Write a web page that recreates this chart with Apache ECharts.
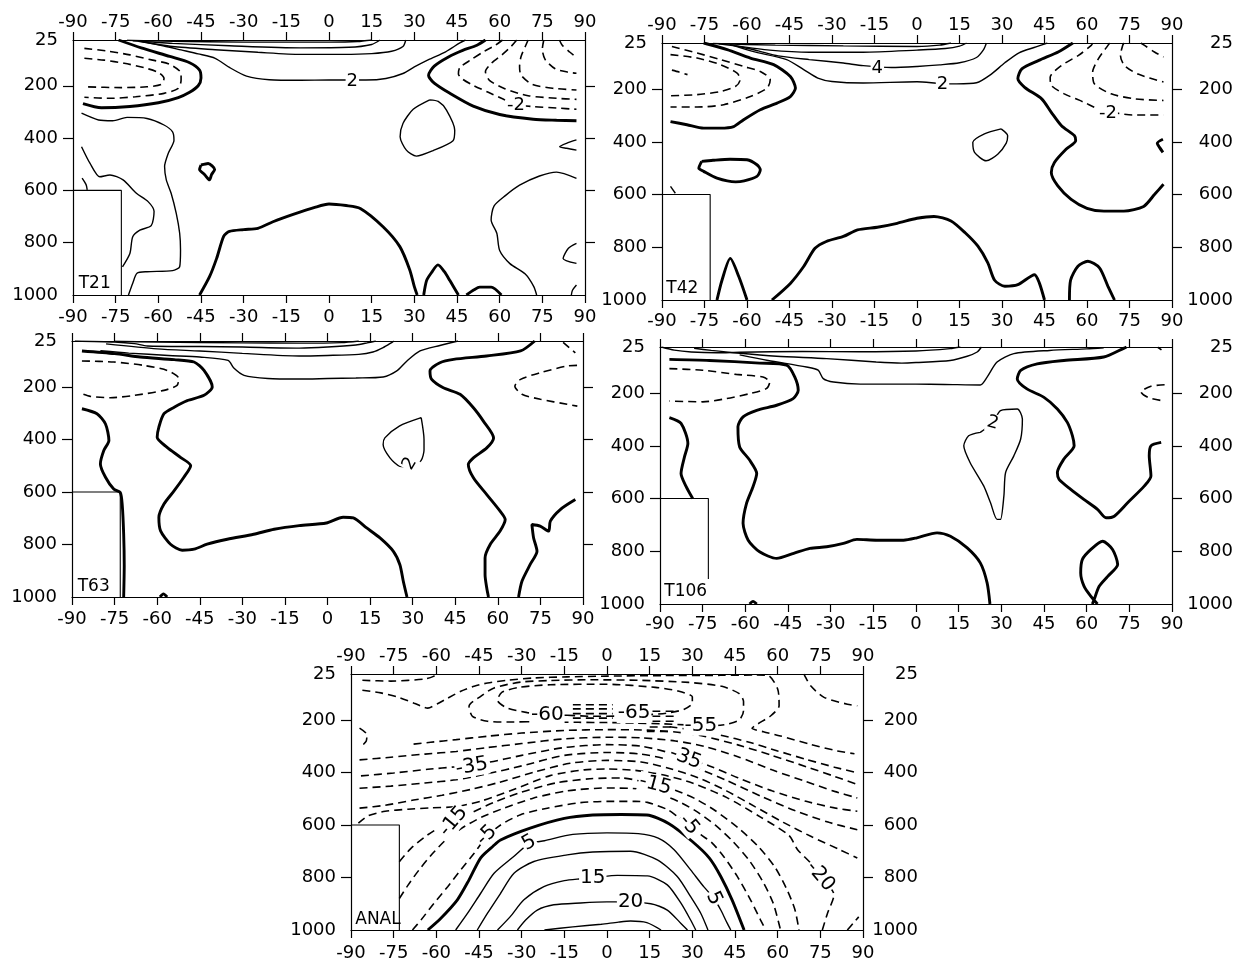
<!DOCTYPE html>
<html>
<head>
<meta charset="utf-8">
<script src="https://cdn.jsdelivr.net/npm/echarts@6/dist/echarts.min.js"></script>
<style>
html,body{margin:0;padding:0;background:#fff;}
#chart{width:1238px;height:967px;}
</style>
</head>
<body>
<div id="chart"></div>
<script>
// ---------- axis values ----------
const latMin = -90, latMax = 90, latStep = 15;
const pMin = 25, pMax = 1000;
const pLabelValues = [25, 200, 400, 600, 800, 1000];
const pTickValues = [200, 400, 600, 800];

// ---------- T21 ----------
const T21_box = [[-90,600],[-73,600],[-73,1000]];
const T21_thick = [
  [[-74,25],[-66,55],[-56,88],[-49,112],[-45.5,140],[-45,170],[-46,200],[-49,225],[-53,245],[-60,265],[-70,279],[-80,284],[-86.5,268]],
  [[-45,503],[-42.5,497],[-40.2,520],[-41.3,540],[-42,560],[-43.7,540],[-45.5,520],[-45,503]],
  [[-45.5,1000],[-42,930],[-39.5,860],[-37,775],[-35,757],[-30,750],[-25,745],[-19.7,720],[-12.6,692],[-5,665],[0,652],[6,658],[11,669],[19,739],[24.9,815],[28.4,904],[30,968],[31,1000]],
  [[33.3,1000],[34.3,945],[36,915],[38.3,885],[40.5,910],[42.5,945],[45.5,1000]],
  [[48.3,1000],[51,980],[53,970],[57,970],[60.6,1000]],
  [[55,25],[52,45],[47,65],[42,90],[37,125],[35,160],[37,190],[42.5,229],[50.7,278],[60,310],[71.8,328],[80,332],[87,334]]
];
const T21_thin = [
  [[-71,26],[-55,30],[-30,33],[0,33],[10,31],[15,25]],
  [[-69,28],[-55,38],[-35,47],[-10,55],[7,53],[15,42],[18,25]],
  [[-67,30],[-55,50],[-40,62],[-25,72],[-10,80],[5,80],[15,77],[22,68],[26,50],[27,25]],
  [[-66,30],[-58,48],[-52,63],[-46,78],[-40,95],[-35,130],[-29,163],[-21,177],[-10,179],[0,178],[13,178],[20,172],[26,153],[30,128],[35,100],[41,70],[46,36],[48,25]],
  [[-87,305],[-81,331],[-76,334],[-71,321],[-64,325],[-58,350],[-55,376],[-54.5,408],[-56.5,458],[-57.8,509],[-57.2,560],[-55.5,611],[-53.7,688],[-52.5,764],[-52.2,828],[-52.5,892],[-55,907],[-64,911],[-67.5,917],[-69,955],[-70.5,1000]],
  [[-87,433],[-84,497],[-80.6,548],[-77,541],[-72.4,560],[-67.7,611],[-63.6,643],[-61.5,680],[-62.5,735],[-66.5,752],[-69,777],[-70,841],[-72.6,892]],
  [[-86.8,553],[-85.4,578],[-85,598]],
  [[35.4,254],[29.6,290],[26,344],[25,395],[27.2,446],[30.7,469],[36.6,448],[43.6,410],[44.2,370],[41.3,293],[38.4,260],[35.4,254]],
  [[87,407],[83.5,420],[81.1,433],[83.5,439],[87,446]],
  [[87,554],[80,530],[74,545],[67,580],[62,620],[58,660],[57,713],[59,764],[60,830],[63.6,880],[69,920],[72,968],[73,1000]],
  [[87,803],[84.1,822],[82.3,860],[87,879]],
  [[87,962],[85.6,982],[85.2,1000]]
];
const T21_dash = [
  [[-86,95],[-79,102],[-72,114],[-65,131],[-60,149],[-58,172],[-59,195],[-64,204],[-73,207],[-86,204]],
  [[-86,57],[-78,67],[-70,82],[-62,102],[-56,118],[-52,153],[-52,178],[-53,210],[-58,229],[-68,242],[-77,248],[-86,244]],
  [[61,25],[58.5,45],[54,72],[50,100],[46,130],[45.5,155],[47,175],[51,200],[56,225],[61,250],[65,270],[72,280],[80,285],[87,290]],
  [[66,25],[64,50],[61,80],[57,115],[55,146],[56.5,180],[62,212],[70,238],[80,248],[87,252]],
  [[70,25],[69,50],[67.5,89],[67,127],[67.5,159],[71.5,195],[79,210],[87,216]],
  [[75.5,25],[75,60],[76,100],[79.5,135],[84,148],[87,152]],
  [[81,25],[82,45],[84.5,70],[87,92]]
];
const T21_text = [[8.2,182,'2',0],[65.7,274,'-2',0]];

// ---------- T42 ----------
const T42_box = [[-90,600],[-73,600],[-73,1000]];
const T42_thick = [
  [[-75.3,25],[-67,50],[-58.8,82],[-50.6,107],[-44.7,152],[-42.9,196],[-44.7,228],[-49.4,253],[-55.3,278],[-61.2,316],[-64.7,342],[-69.4,348],[-75.3,348],[-81.2,335],[-87,323]],
  [[-76,474],[-72,470],[-66,466],[-60,468],[-56.5,487],[-55.3,506],[-56.5,531],[-61,548],[-64,552],[-70.6,538],[-75.3,512],[-77,500],[-76,474]],
  [[-70.6,1000],[-68.8,924],[-65.9,842],[-62.9,911],[-60,1000]],
  [[-51.2,1000],[-44.7,937],[-40,873],[-36,804],[-32,778],[-26,759],[-21,734],[-14,724],[-7,709],[0,690],[6,683],[12,700],[17,745],[21.5,796],[25,859],[27.4,925],[31,948],[35.6,942],[41.5,904],[43.2,936],[45,1000]],
  [[55,25],[50,58],[43,91],[37,123],[35.6,160],[38,193],[44,237],[47.4,288],[51,339],[55.6,377],[56,396],[52.6,428],[48.5,478],[47.4,516],[49.7,567],[54.4,618],[60,652],[66,663],[73,663],[80,645],[83.8,600],[87,561]],
  [[53.8,1000],[54.2,925],[56.8,872],[60.3,853],[64.4,878],[67.4,948],[69.7,1000]],
  [[86.8,390],[84.8,405],[85.6,421],[86.8,440]]
];
const T42_thin = [
  [[-72,27],[-50,33],[-26,36],[0,38],[8,33],[12,25]],
  [[-64,36],[-52,52],[-38,60],[-19,60],[0,52],[10,46],[15,37],[17.5,25]],
  [[-70,28],[-62,40],[-56,55],[-49,74],[-38,88],[-26,101],[-19,111],[-9,118],[0,114],[8,108],[15,100],[21,80],[23.5,50],[24.5,25]],
  [[-66,30],[-58,57],[-46,88],[-40,126],[-35,158],[-30,171],[-19,177],[0,172],[8,178],[14,180],[21,176],[26,145],[31,100],[36,62],[42,40],[46,25]],
  [[29.7,351],[23.8,370],[19.7,402],[20.3,440],[24.4,472],[28.5,447],[31.5,405],[32,377],[29.7,351]],
  [[-87,569],[-85.3,595]]
];
const T42_dash = [
  [[-87,69],[-77.6,82],[-69.4,107],[-63.5,139],[-62.4,164],[-64.1,190],[-69.4,209],[-77.6,221],[-87,225]],
  [[-86.5,38],[-77.6,63],[-69.4,88],[-61.2,114],[-55.3,133],[-51.8,164],[-52.9,196],[-58.8,228],[-68.2,259],[-77.6,268],[-87,268]],
  [[-86.5,128],[-84,135],[-81,145]],
  [[62,25],[61.5,34],[57,72],[51,110],[47,155],[47.4,186],[52,218],[59,250],[64,275],[70,290],[76,298],[87,298]],
  [[68,25],[67.4,34],[64,85],[62,135],[62.6,180],[68.5,218],[77,237],[87,243]],
  [[73,25],[72.6,34],[71.8,72],[73.2,110],[78,143],[87,173]],
  [[79,25],[80.3,34],[83.8,59],[87,78]]
];
const T42_text = [[-14,120,'4',0],[9,180,'2',0],[67.4,290,'-2',0]];

// ---------- T63 ----------
const T63_box = [[-90,600],[-73,600],[-73,1000]];
const T63_thick = [
  [[-86.5,63],[-75,73],[-66,86],[-54,96],[-47,105],[-43.5,137],[-40.6,200],[-43.5,232],[-49.4,252],[-54,277],[-57.6,302],[-59.4,353],[-60,392],[-56.5,430],[-51.8,468],[-48.2,500],[-50.6,544],[-54,595],[-57.6,646],[-59.4,697],[-58.8,748],[-55.3,799],[-51.2,822],[-47,818],[-42.4,799],[-35.3,780],[-26,761],[-18.8,742],[-10,728],[-0.4,718],[5.5,696],[9.1,699],[13.8,737],[18.5,775],[23.2,826],[25.5,877],[26.7,940],[28,1000]],
  [[-86.5,283],[-81.2,302],[-78.2,341],[-77,404],[-78.8,442],[-80,493],[-78.2,544],[-75.3,589],[-73,602],[-72.3,650],[-71.8,760],[-71.6,880],[-71.8,1000]],
  [[-59,1000],[-57.8,988],[-56.5,1000]],
  [[73,25],[68,63],[56,82],[44.4,95],[39.6,108],[36.1,139],[36.7,171],[40.8,203],[46.7,228],[51.4,279],[54.9,330],[58.5,394],[56.1,432],[51.4,470],[49.6,495],[51.4,546],[56.1,610],[60.8,673],[62.6,705],[60.8,749],[57.3,800],[55.5,851],[55.5,915],[56.1,966],[56.7,1000]],
  [[87.3,629],[82,667],[78.5,711],[77.9,749],[74.9,730],[72,724],[72.6,775],[73.8,826],[71.4,876],[68.5,940],[67.3,1000]]
];
const T63_thin = [
  [[-75,26],[-60,29],[-30,32],[-10,33],[5,31],[11,25]],
  [[-89,25],[-75,29],[-68,35],[-63.5,44],[-45,46],[-30,48],[-10,52],[0,48],[10,40],[14,32],[17,25]],
  [[-78,36],[-60,55],[-45,63],[-30,72],[-10,82],[0,80],[11,76],[16,67],[19.6,50],[23,28],[23.5,25]],
  [[-80,62],[-70,71],[-56,80],[-45,86],[-35,99],[-33,128],[-29.4,156],[-21,168],[-10,170],[0,168],[10,166],[19.6,162],[24.4,139],[28,101],[32.6,63],[39.6,42],[46,25]],
  [[33,317],[25.3,349],[20.2,394],[19.6,419],[22,470],[25.5,502],[30,505],[33,480],[34,440],[34,400],[33,317]]
];
const T63_dash = [
  [[-86.5,101],[-75.3,105],[-64.7,118],[-56.5,137],[-52.4,168],[-53,194],[-57.6,213],[-68,232],[-76.5,241],[-83.5,236],[-86.5,226]],
  [[87.9,118],[84.4,120],[74.9,146],[68,171],[66,197],[68.5,228],[75,247],[84.4,266],[88,273]],
  [[83,30],[87.3,70]]
];
const T63_text = [[29,492,'2',60]];

// ---------- T106 ----------
const T106_box = [[-90,600],[-73,600],[-73,905]];
const T106_thick = [
  [[-86.7,72],[-72.6,76],[-55,86],[-45.5,94],[-42.6,139],[-41.4,189],[-43.2,221],[-49,246],[-56,265],[-60.8,290],[-62.6,328],[-62,404],[-58.5,454],[-56,505],[-57.3,555],[-59.6,619],[-60.8,694],[-59,758],[-55,802],[-49,827],[-43,808],[-37.3,789],[-31.4,783],[-25.5,770],[-20.8,755],[-13.8,758],[-4.4,758],[0.3,749],[7.4,730],[12.1,743],[18,787],[22.6,844],[25,920],[26,1000]],
  [[-86.7,293],[-82.6,315],[-80.2,391],[-81.4,442],[-82.6,505],[-80.8,555],[-78.5,600]],
  [[-58.5,1000],[-57.3,990],[-56,1000]],
  [[74,25],[73.2,29],[66,63],[52,76],[42.6,89],[36.8,114],[35.6,146],[39,184],[45,216],[49.7,260],[53.2,311],[55,362],[55.6,400],[52,450],[49.7,501],[50.3,527],[54.4,565],[59,603],[63.8,641],[66.8,673],[69.7,667],[74.4,616],[80.3,552],[82.6,514],[82,438],[82.6,400],[86.2,387]],
  [[62,1000],[62.6,984],[64.4,933],[67.4,895],[70.9,850],[69.1,793],[65.6,762],[61.5,793],[58.5,831],[57.9,882],[59.1,933],[61.5,971],[63.8,1000]]
];
const T106_thin = [
  [[-89.5,25],[-85,37],[-79,44],[-70,47],[-62,45],[-40,42],[-20,43],[0,40],[12,31],[15.6,25]],
  [[-78,30],[-72,38],[-63,48],[-49,60],[-31.4,69],[-14,82],[-5,86],[0,84],[12,76],[18,60],[21.5,44],[23,25]],
  [[-62,55],[-52,76],[-38.5,101],[-34.4,113],[-32.6,145],[-29,158],[-19.6,166],[0,166],[10,167],[22.6,169],[25,139],[28.5,82],[34.4,50],[47,38],[60,32],[66,28]],
  [[22.6,349],[18.5,362],[16.8,400],[19,463],[23.8,552],[26.2,616],[28.5,679],[29.7,679],[30.9,590],[31.5,501],[34.4,438],[36.8,374],[37.4,298],[35.6,260],[29.7,266],[27.1,311],[22.6,349]]
];
const T106_dash = [
  [[-86.7,107],[-75,113],[-63.2,129],[-53.8,139],[-51.4,158],[-52.6,183],[-58.5,202],[-66.7,221],[-75,233],[-86.7,230]],
  [[87.4,168],[82.6,174],[79.1,196],[81.5,216],[86.2,228]],
  [[85,26],[86.3,36]]
];
const T106_text = [[27,313,'2',-15]];

// ---------- ANAL ----------
const ANAL_box = [[-90,600],[-73,600],[-73,1000]];
const ANAL_thick = [
  [[-63,1000],[-58.4,955],[-52.6,885],[-48.5,809],[-44.4,725],[-40,680],[-37.4,657],[-27,612],[-15,575],[-5,562],[5,560],[14,562],[21.8,595],[30,663],[36,726],[40,796],[44,886],[48.2,1000]]
];
const ANAL_thin = [
  [[-53.2,1000],[-49,936],[-44.4,860],[-39.7,784],[-33,722],[-27.4,672],[-22,660],[-12,636],[0,630],[11,633],[18,650],[23.6,694],[29.4,771],[34,835],[37.6,879],[40,924],[42.3,975],[43.5,1000]],
  [[-45.6,1000],[-42,936],[-37.4,860],[-32.7,784],[-25.7,739],[-14,714],[-5,703],[8.3,700],[17.7,733],[24.7,796],[29.4,873],[33,937],[35.5,1000]],
  [[-38.5,1000],[-34,949],[-29.2,885],[-22.2,835],[-15,812],[-9.3,805],[-4,800],[3.6,792],[14.2,794],[21.2,828],[26,898],[29.4,962],[31.2,1000]],
  [[-31.5,1000],[-28.6,962],[-24.5,924],[-18.7,904],[-9.3,897],[0,893],[3,893],[15.4,900],[21.2,924],[26,975],[28.3,1000]],
  [[-22,1000],[-12,988],[-2,978],[4,970],[8.3,966],[14,972],[19,1000]]
];
const ANAL_dash = [
  [[-86,49],[-76,52],[-64,44],[-61,34],[-60,25]],
  [[-86,87],[-79.5,97],[-73.6,113],[-67.8,136],[-63,155],[-59.6,138],[-56,117],[-51.4,91],[-46.7,72],[-42,59],[-35,49],[-25.7,40],[-14,36],[0,33],[20,31],[40,30],[52,29],[56.5,30],[60,82],[60.5,146],[57.6,184],[52.9,216],[51,232],[55,245],[61,261],[71.6,293],[81,318],[87,329]],
  [[-28,207],[-35,208],[-42,205],[-47.3,186],[-48.5,148],[-44.4,110],[-39.7,78],[-30.4,56],[-20,50],[-6,47],[11,49],[28.7,57],[40.4,72],[46.5,100],[48,130],[48,165],[46.5,200],[42.3,216],[38,221],[33,221],[28,219],[20,215],[10,212],[0,210],[-10,209],[-20,208],[-28,207]],
  [[-14,182],[-5,186],[5,185],[12,182],[21,174],[27,160],[30,136],[30,112],[25,90],[17,76],[0,64],[-20,66],[-31,76],[-37,95],[-38.5,125],[-35,155],[-28,172],[-21,181],[-14,182]],
  [[-12,142],[2,142]],[[-12,158],[2,158]],[[-12,176],[2,176]],[[-12,193],[2,193]],
  [[16,167],[24,167]],[[16,186],[24,186]],[[16,205],[24,205]],[[15,227],[24,227]],[[14,244],[22,244]],
  [[22,226],[30,238],[40,258],[50,285],[60,318],[70,350],[80,380],[88,401]],
  [[-68,292],[-62,285],[-53,275],[-42,262],[-30,250],[-15,240],[0,237],[12,238],[24,246],[34,262],[46,295],[58,335],[70,378],[80,415],[88,446]],
  [[-87,352],[-76,342],[-64,330],[-53,320],[-42,305],[-30,290],[-15,272],[0,266],[12,268],[24,280],[34,300],[46,340],[58,390],[70,435],[80,472],[88,497]],
  [[-86.5,413],[-75,402],[-63,388],[-53,378],[-42,362],[-30,335],[-15,305],[0,294],[12,300],[22,325],[27.6,345],[36,375],[46,420],[58,470],[70,510],[80,535],[88,548]],
  [[-87,460],[-76,452],[-64,440],[-53,428],[-42,405],[-30,375],[-15,335],[0,324],[12,330],[22,352],[32,385],[42,430],[54,490],[66,545],[78,590],[88,618]],
  [[-87,536],[-78,525],[-68,505],[-58,487],[-48,465],[-38,438],[-26,400],[-13,365],[0,354],[12,360],[22,385],[32,420],[42,470],[52,530],[62,590],[72,645],[82,695],[88,726]],
  [[-87.4,593],[-84,565],[-78,548],[-70,540],[-62,535],[-53,530],[-44,508],[-34,470],[-20,412],[-8,390],[0,387],[10,392],[20,410],[30,440],[42,495],[54,570],[64,640],[67,694],[71.6,745],[75,796],[79.8,866],[77.5,937],[75.7,1000]],
  [[-73,740],[-69,690],[-64,645],[-59,610],[-54,586],[-48,555],[-40,515],[-30,475],[-18,440],[-6,424],[5,421],[17,447],[24,468],[31,500],[38,545],[46,610],[53,680],[59,760],[63,840],[66,920],[67.5,1000]],
  [[-73,880],[-70,830],[-66,770],[-61,705],[-56,650],[-50,605],[-44,570],[-36,535],[-26,498],[-14,470],[0,459],[12,464],[20,488],[26,515],[32,552],[38,600],[44,660],[50,735],[55,820],[58.5,900],[61,1000]],
  [[-68.4,1000],[-65.4,962],[-60.8,898],[-56,835],[-51.4,771],[-46.7,708],[-42.3,645],[-37.4,600],[-30.4,561],[-21,536],[-9.3,515],[0,510],[10,510],[14.2,514],[21.2,541],[24.7,567],[28.8,599],[33,637],[37,669],[41,720],[45.8,796],[50.5,886],[54,962],[55.8,1000]],
  [[84.5,1000],[86.5,975],[88.5,950]],
  [[69.3,25],[69.5,31],[71.6,70],[76.3,114],[84.5,140],[88,146]],
  [[-87,231],[-84.4,256],[-84.7,282],[-86.7,303]]
];
const ANAL_text = [
  [-21,181,'-60',0],[9.5,174,'-65',0],[33,221,'-55',0],
  [-47.5,377,'-35',10],[27.6,345,'-35',-20],
  [-54,586,'-15',50],[17,447,'-15',-15],
  [-42.3,640,'-5',45],[28.8,599,'-5',-50],
  [-27.4,668,'5',30],[37.6,879,'5',-65],
  [-5,800,'15',0],[8.3,893,'20',0],[75,796,'-20',-50]
];

// ---------- panel names ----------
const panelNames = ['T21','T42','T63','T106','ANAL'];
const panelNamePos = [[-88,955],[-88.5,955],[-88,962],[-88.5,953],[-88.5,962]];

// ---------- layout / style (not data) ----------
const FONT = "'DejaVu Sans', 'Liberation Sans', Arial, sans-serif";
const INK = '#000';
const panels = [
  {grid:{left:73, top:40, width:512, height:255}, topLab:true,  rightLab:false, rightMargin:0, botMargin:13,
   box:T21_box, thick:T21_thick, thin:T21_thin, dash:T21_dash, text:T21_text},
  {grid:{left:662, top:43, width:510, height:257}, topLab:true, rightLab:true, rightMargin:61, botMargin:12,
   box:T42_box, thick:T42_thick, thin:T42_thin, dash:T42_dash, text:T42_text},
  {grid:{left:72, top:341, width:511, height:256}, topLab:false, rightLab:false, rightMargin:0, botMargin:13,
   box:T63_box, thick:T63_thick, thin:T63_thin, dash:T63_dash, text:T63_text},
  {grid:{left:660, top:347, width:512, height:257}, topLab:false, rightLab:true, rightMargin:61, botMargin:11,
   box:T106_box, thick:T106_thick, thin:T106_thin, dash:T106_dash, text:T106_text},
  {grid:{left:351, top:674, width:512, height:256}, topLab:true, rightLab:true, rightMargin:55, botMargin:14,
   box:ANAL_box, thick:ANAL_thick, thin:ANAL_thin, dash:ANAL_dash, text:ANAL_text}
];

const grids = [], xAxes = [], yAxes = [], series = [];
const axisLine = {show:true, onZero:false, lineStyle:{color:INK, width:1.2}};

panels.forEach((pn, i) => {
  grids.push(Object.assign({containLabel:false}, pn.grid));
  ['bottom','top'].forEach(pos => {
    xAxes.push({
      type:'value', gridIndex:i, position:pos, min:latMin, max:latMax, interval:latStep,
      axisLine:axisLine,
      axisTick:{show:true, length:8, lineStyle:{color:INK, width:1.2}},
      axisLabel:{show: pos==='bottom' ? true : pn.topLab, color:INK, fontSize:18, fontFamily:FONT,
                 margin: pos==='bottom' ? pn.botMargin : 9, formatter: v => String(v)},
      splitLine:{show:false}
    });
  });
  ['left','right'].forEach(pos => {
    const isRight = pos==='right';
    yAxes.push({
      type:'value', gridIndex:i, position:pos, min:pMin, max:pMax, inverse:true,
      axisLine:axisLine,
      axisTick:{show:true, length:10, customValues:pTickValues, lineStyle:{color:INK, width:1.2}},
      axisLabel:{show: isRight ? pn.rightLab : true, customValues:pLabelValues, color:INK, fontSize:18, fontFamily:FONT,
                 margin: isRight ? pn.rightMargin : 15, align: 'right', formatter: v => String(v)},
      splitLine:{show:false}
    });
  });
  const xi = 2*i, yi = 2*i;
  const add = (pts, style, z) => series.push({
    type:'line', xAxisIndex:xi, yAxisIndex:yi, data:pts, showSymbol:false, symbol:'none',
    smooth:0.25, silent:true, z:z, lineStyle:style, animation:false
  });
  add(pn.box, {color:INK, width:1.1, type:'solid'}, 2);
  pn.thick.forEach(c => add(c, {color:INK, width:2.9, type:'solid'}, 3));
  pn.thin.forEach(c => add(c, {color:INK, width:1.4, type:'solid'}, 3));
  pn.dash.forEach(c => add(c, {color:INK, width:1.6, type:[8,5]}, 3));
  const fs = i===4 ? 20 : 18;
  series.push({
    type:'scatter', xAxisIndex:xi, yAxisIndex:yi, symbolSize:0, silent:true, z:6, animation:false,
    itemStyle:{opacity:1},
    data: pn.text.map(t => ({value:[t[0], t[1]], label:{show:true, formatter:t[2], rotate:t[3]}})),
    label:{show:true, position:'inside', color:INK, fontSize:fs, fontFamily:FONT,
           backgroundColor:'#fff', padding:[0,1]}
  });
  series.push({
    type:'scatter', xAxisIndex:xi, yAxisIndex:yi, symbolSize:0, silent:true, z:6, animation:false,
    itemStyle:{opacity:1},
    data:[{value:panelNamePos[i], label:{show:true, formatter:panelNames[i]}}],
    label:{show:true, position:[0,0], align:'left', verticalAlign:'middle', color:INK, fontSize:17, fontFamily:FONT}
  });
});

const chart = echarts.init(document.getElementById('chart'), null, {renderer:'canvas'});
chart.setOption({
  backgroundColor:'#fff',
  animation:false,
  grid:grids, xAxis:xAxes, yAxis:yAxes, series:series
});
</script>
</body>
</html>
